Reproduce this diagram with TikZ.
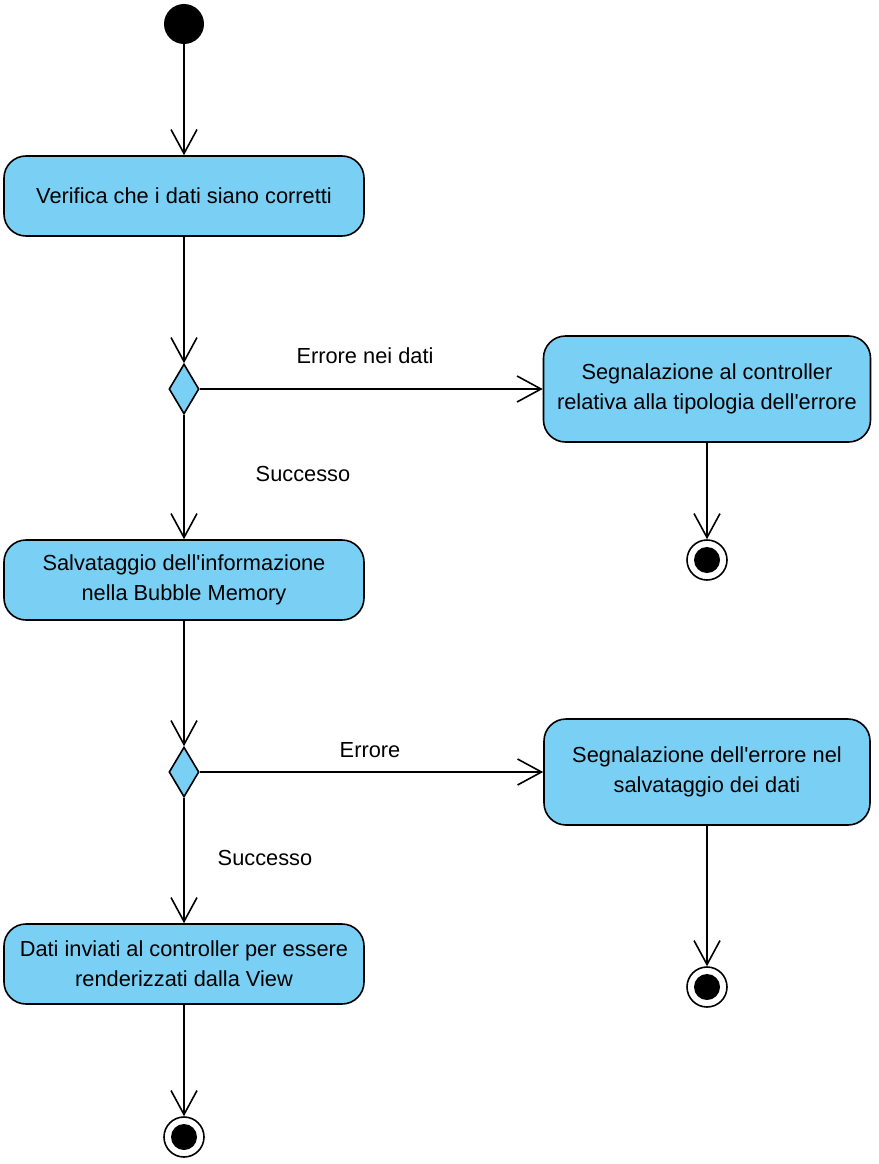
\documentclass[tikz,border=0pt]{standalone}
\usepackage{fontspec}
\setmainfont{Liberation Sans}
\usetikzlibrary{arrows.meta,shapes.geometric}
\definecolor{actfill}{RGB}{122,207,244}
\newcommand{\apo}{\textquotesingle}
\begin{document}
\begin{tikzpicture}[x=1pt,y=-1pt,
  every node/.style={font=\fontsize{21.8}{30}\selectfont},
  action/.style={draw,line width=1.6pt,fill=actfill,rounded corners=22pt,align=center,inner sep=0pt},
  decision/.style={draw,line width=1.6pt,fill=actfill,diamond,inner sep=0pt,minimum width=30pt,minimum height=50pt},
  startnode/.style={circle,fill=black,inner sep=0pt,minimum size=40pt},
  endnode/.style={circle,draw,line width=1.6pt,fill=white,inner sep=0pt,minimum size=40pt},
  flow/.style={line width=1.6pt,-{Straight Barb[length=24pt,width=26pt,line width=1.6pt]}},
  lbl/.style={inner sep=0pt}
]
\useasboundingbox (0,0) rectangle (878,1164);
% nodes
\node[startnode] (init) at (184,24) {};
\node[action,minimum width=360pt,minimum height=80pt] (a1) at (184,196) {Verifica che i dati siano corretti};
\node[decision] (d1) at (184,389) {};
\node[action,minimum width=327pt,minimum height=106pt] (a2) at (707,389) {Segnalazione al controller\\relativa alla tipologia dell\apo errore};
\node[endnode] (f1) at (707,560) {};
\fill (f1.center) circle (13pt);
\node[action,minimum width=360pt,minimum height=80pt] (a3) at (184,580) {Salvataggio dell\apo informazione\\nella Bubble Memory};
\node[decision] (d2) at (184,772) {};
\node[action,minimum width=326pt,minimum height=106pt] (a4) at (707,772) {Segnalazione dell\apo errore nel\\salvataggio dei dati};
\node[endnode] (f2) at (707,987) {};
\fill (f2.center) circle (13pt);
\node[action,minimum width=360pt,minimum height=80pt] (a5) at (184,964) {Dati inviati al controller per essere\\renderizzati dalla View};
\node[endnode] (f3) at (184,1137) {};
\fill (f3.center) circle (13pt);
% labels
\node[lbl] (l1) at (365,356) {Errore nei dati};
\node[lbl] (l2) at (303,474) {Successo};
\node[lbl] (l3) at (370,750) {Errore};
\node[lbl] (l4) at (265,858) {Successo};
% connectors
\draw[flow] (init) -- (a1.north);
\draw[flow] (a1.south) -- (d1.north);
\draw[flow] (d1.east) -- (a2.west);
\draw[flow] (a2.south) -- (f1.north);
\draw[flow] (d1.south) -- (a3.north);
\draw[flow] (a3.south) -- (d2.north);
\draw[flow] (d2.east) -- (a4.west);
\draw[flow] (a4.south) -- (f2.north);
\draw[flow] (d2.south) -- (a5.north);
\draw[flow] (a5.south) -- (f3.north);
\end{tikzpicture}
\end{document}
